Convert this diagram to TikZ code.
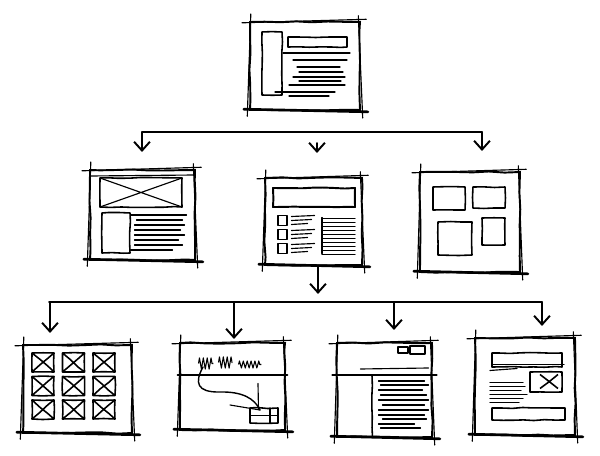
\documentclass[tikz,border=0pt]{standalone}
\usetikzlibrary{arrows.meta,calc,decorations.pathmorphing,positioning}
\newcommand{\sketchframe}[1]{%
\draw[stroke] ([xshift=-4pt,yshift=-1pt]#1.north west) -- ([xshift=3pt,yshift=1pt]#1.north east);
\draw[heavy] ([xshift=-3pt,yshift=1pt]#1.south west) -- ([xshift=4pt,yshift=-0.5pt]#1.south east);
\draw[stroke] ([xshift=1pt,yshift=4pt]#1.north west) -- ([xshift=-1pt,yshift=-3pt]#1.south west);
\draw[stroke] ([xshift=-1.5pt,yshift=3pt]#1.north east) -- ([xshift=1pt,yshift=-4pt]#1.south east);}

\begin{document}
\begin{tikzpicture}[x=0.02cm,y=-0.02cm,
  page/.style={draw, line width=1.1pt, inner sep=0pt, decorate, decoration={random steps, segment length=9pt, amplitude=0.4pt}},
  stroke/.style={line width=0.65pt, line cap=round},
  heavy/.style={line width=1.5pt, line cap=round},
  box/.style={line width=0.9pt, line join=round, decorate, decoration={random steps, segment length=6pt, amplitude=0.3pt}},
  link/.style={line width=1.1pt, line cap=round},
  arrow/.style={link, -{Straight Barb[length=5pt,width=9pt,line width=1.1pt]}},
  scrib/.style={line width=0.6pt, line join=round, decorate, decoration={zigzag, segment length=2.2pt, amplitude=3.2pt}}]
\pgfmathsetseed{11}
\useasboundingbox (0,0) rectangle (600,456);

\node[page, minimum width=2.2cm, minimum height=1.76cm] (home) at (305,66) {};
\node[page, minimum width=2.1cm, minimum height=1.8cm] (news) at (142.5,215) {};
\node[page, minimum width=1.94cm, minimum height=1.74cm] (list) at (313.5,221.5) {};
\node[page, minimum width=2cm, minimum height=2cm] (grid) at (470,222) {};
\node[page, minimum width=2.18cm, minimum height=1.76cm] (gallery) at (77.5,389) {};
\node[page, minimum width=2.1cm, minimum height=1.74cm] (map) at (232.5,386.5) {};
\node[page, minimum width=1.9cm, minimum height=1.88cm] (article) at (384.5,390) {};
\node[page, minimum width=2cm, minimum height=1.94cm] (detail) at (525,386.5) {};
\foreach \n in {home,news,list,grid,gallery,map,article,detail} {\sketchframe{\n}}

\begin{scope}[shift={(home.center)}]
\draw[box] (-43,-34) rectangle (-23,29);
\draw[box] (-17,-29) rectangle (42,-19);
\foreach \y/\a/\b in {-13/-22/45,-6/-12/42,1/-8/35,6/-6/38,11/-12/40,15/-6/36,19/-16/40,26/-30/30,30/-16/24}
  \draw[stroke] (\a,\y) -- (\b,\y);
\end{scope}

\begin{scope}[shift={(news.center)}]
\draw[stroke] (-52,-39) -- (52,-40);
\draw[box] (-42.5,-37) rectangle (39.5,-8);
\draw[stroke] (-42.5,-37) -- (39.5,-8) (-42.5,-8) -- (39.5,-37);
\draw[box] (-40.5,-2) rectangle (-12.5,38);
\foreach \y/\a/\b in {0/-12/44,5/-6/40,10/-8/42,15/-8/38,20/-8/42,25/-8/36,30/-8/40,35/-12/30}
  \draw[stroke] (\a,\y) -- (\b,\y);
\end{scope}

\begin{scope}[shift={(list.center)}]
\draw[box, line width=1.1pt] (-40.5,-33.5) rectangle (41.5,-14.5);
\foreach \y in {-6,8,22} {
  \draw[box] (-35.5,\y) rectangle (-26.5,\y+10);
  \draw[stroke] (-22,\y+1) -- (1,\y) (-22,\y+5) -- (-2,\y+4) (-22,\y+9) -- (-6,\y+8);}
\draw[stroke] (8.5,-4) -- (8.5,32);
\foreach \y in {-3,1,...,33}
  \draw[stroke] (8.5,\y) -- (41.5,\y);
\end{scope}

\begin{scope}[shift={(grid.center)}]
\draw[box] (-37,-35) rectangle (-5,-12);
\draw[box] (3,-35) rectangle (35,-14);
\draw[box] (-32,0) rectangle (2,33);
\draw[box] (12,-4) rectangle (35,23);
\end{scope}

\begin{scope}[shift={(gallery.center)}]
\foreach \c in {0,1,2}
  \foreach \r in {0,1,2}
    \draw[box] (-45.5+30.5*\c,-36+23.5*\r) rectangle ++(22,19) ++(-22,0) -- ++(22,-19) ++(-22,0) -- ++(22,19);
\end{scope}

\begin{scope}[shift={(map.center)}]
\draw[heavy, line width=1pt] (-55,-11.5) -- (55,-11.5);
\draw[scrib] (-34,-23) -- (-19,-23);
\draw[scrib] (-14,-24) -- (0,-24);
\draw[scrib, decoration={amplitude=2pt}] (6,-22) -- (29,-22);
\draw[stroke, line width=0.8pt] (-29.5,-19.5) .. controls (-38,-4) and (-36,6) .. (-12.5,5.5) .. controls (10,5) and (22,12) .. (27.5,23.5);
\draw[stroke] (-2.5,18.5) -- (27.5,23.5);
\draw[stroke] (25.5,-3) -- (26,23);
\draw[box] (17.5,21.5) rectangle (45.5,36.5);
\draw[stroke] (17.5,29) -- (45.5,29) (37.5,21.5) -- (37.5,36.5);
\end{scope}

\begin{scope}[shift={(article.center)}]
\draw[heavy] (-52,-15) -- (52,-15);
\draw[stroke] (-24,-21) -- (44,-22);
\draw[box] (-12.5,-15) -- (-12,47);
\draw[box] (13.5,-43) rectangle (23.5,-37);
\draw[box] (25.5,-44) rectangle (40.5,-36);
\foreach \y/\a/\b in {-9/-6/40,-5/-4/44,0/-6/38,5/-4/42,10/-6/44,15/-2/40,20/-6/44,25/-6/40,29/-2/42,34/-6/30,38/-4/36}
  \draw[stroke] (\a,\y) -- (\b,\y);
\end{scope}

\begin{scope}[shift={(detail.center)}]
\draw[box] (-33,-33.5) rectangle (37,-19.5);
\draw[stroke] (-33,-22) -- (39,-22);
\draw[box] (5,-14.5) rectangle (37,5.5);
\draw[box] (15,-12) -- (33,2) (15,2) -- (33,-12);
\draw[stroke] (-35,-16) -- (-8,-18);
\foreach \y/\b in {-4/-2,0/0,4/-4,8/2,12/-2,16/-6}
  \draw[stroke] (-35,\y) -- (\b,\y);
\draw[box] (-33,21.5) rectangle (40,33.5);
\end{scope}

\coordinate (busA) at (142,132);
\coordinate (busB) at (482,132);
\coordinate (busM) at (317,132);
\draw[link] (busA) -- (busB);
\draw[arrow] (busA) -- ++(0,20);
\draw[arrow, shorten <=0.22cm] (busM) -- ++(0,21);
\draw[arrow] (busB) -- ++(0,19);

\draw[arrow] ([xshift=0.09cm]list.south) -- ++(0,28);
\coordinate (busC) at (49,302);
\coordinate (busD) at (542,302);
\draw[link] (busC) -- (busD);
\foreach \x/\l in {1/31,185/37,345/28,493/24}
  \draw[arrow] ($(busC)+(\x,0)$) -- ++(0,\l);
\end{tikzpicture}
\end{document}
